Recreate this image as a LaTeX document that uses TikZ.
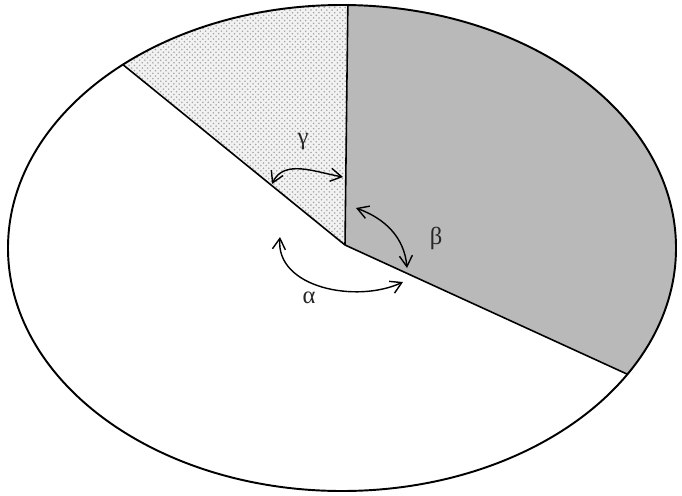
\documentclass[tikz,border=0pt]{standalone}
\usepackage{fontspec}
\newfontfamily\greekfont{Liberation Serif}
\usetikzlibrary{arrows.meta,patterns,calc}
\begin{document}
\begin{tikzpicture}[x=0.02cm, y=0.02cm,
  rim/.style={line width=1.1pt},
  spoke/.style={line width=0.9pt},
  anglearrow/.style={line width=0.8pt, {Straight Barb[length=2.2mm,width=2.6mm]}-{Straight Barb[length=2.2mm,width=2.6mm]}},
  anglelabel/.style={font=\greekfont\fontsize{14}{16}\selectfont, inner sep=0pt, text=black!85}]
\useasboundingbox (0,0) rectangle (682,495);
\coordinate (c) at (342,247);
\coordinate (O) at (345,250);
\path (c) ++(89:334 and 243) coordinate (top);
\path (c) ++(131:334 and 243) coordinate (ul);
\path (c) ++(-31.3:334 and 243) coordinate (lr);
\fill[gray!55] (O) -- (top) arc[start angle=89, end angle=-31.3, x radius=334, y radius=243] -- cycle;
\fill[gray!10] (O) -- (ul) arc[start angle=131, end angle=89, x radius=334, y radius=243] -- cycle;
\path[pattern=crosshatch dots, pattern color=gray!70] (O) -- (ul) arc[start angle=131, end angle=89, x radius=334, y radius=243] -- cycle;
\draw[rim] (c) ellipse[x radius=334, y radius=243];
\draw[spoke] (O) -- (top);
\draw[spoke] (O) -- (ul);
\draw[spoke] (O) -- (lr);
\coordinate (g1) at (272,311);
\coordinate (g2) at (343,318);
\coordinate (b1) at (356,287);
\coordinate (b2) at (407,227);
\coordinate (a1) at (280,258);
\coordinate (a2) at (403,213);
\draw[anglearrow] (g1) to[out=65, in=170] (g2);
\draw[anglearrow] (b1) to[out=-20, in=95] (b2);
\draw[anglearrow] (a1) to[out=-95, in=205] (a2);
\node[anglelabel] (gamma) at (303,354) {γ};
\node[anglelabel] (beta) at (436,257) {β};
\node[anglelabel] (alpha) at (309,197) {α};
\end{tikzpicture}
\end{document}
